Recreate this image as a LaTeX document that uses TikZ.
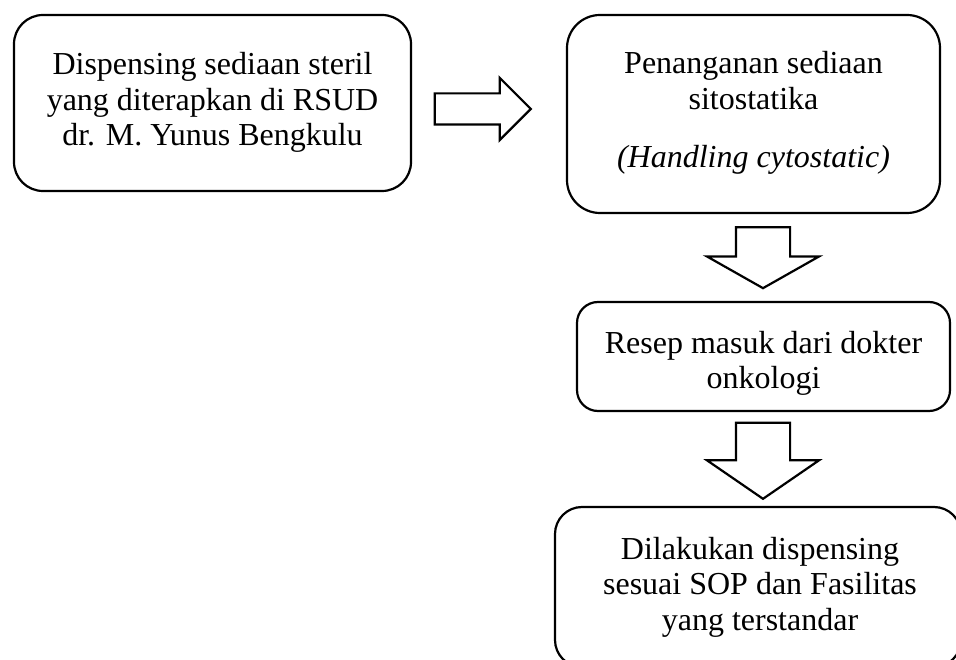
\documentclass[tikz,border=0pt]{standalone}
\usepackage{fontspec}
\setmainfont{Liberation Serif}
\usetikzlibrary{shapes.arrows,calc}

\tikzset{
  stepbox/.style={draw=black, line width=2.2pt, fill=white, inner sep=0pt},
  steptext/.style={align=center, inner sep=0pt,
    font=\fontsize{32}{35.5}\selectfont},
  blockarrow/.style={single arrow, draw=black, line width=2.2pt, fill=white,
    inner xsep=0pt, single arrow head indent=0pt},
}

\begin{document}
\begin{tikzpicture}[x=1pt, y=-1pt]
  \clip (0,0) rectangle (956,660);

  % rounded process boxes
  \node[stepbox, minimum width=397pt, minimum height=176pt, rounded corners=29pt]
    (b1) at (212.5,103) {};
  \node[stepbox, minimum width=373pt, minimum height=198pt, rounded corners=33pt]
    (b2) at (753.5,114) {};
  \node[stepbox, minimum width=373pt, minimum height=109pt, rounded corners=21pt]
    (b3) at (763.5,356.5) {};
  \node[stepbox, minimum width=406pt, minimum height=160pt, rounded corners=27pt]
    (b4) at (758,587) {};

  % box texts
  \node[steptext] (t1) at ([yshift=0.5pt]b1.center)
    {Dispensing sediaan steril\\yang diterapkan di RSUD\\dr. M. Yunus Bengkulu};
  \node[steptext] (t2) at ([yshift=1pt]b2.center)
    {Penanganan sediaan\\sitostatika\\[23pt]\textit{(Handling cytostatic)}};
  \node[steptext] (t3) at ([yshift=-7pt]b3.center)
    {Resep masuk dari dokter\\onkologi};
  \node[steptext] (t4) at ([xshift=2pt]b4.center)
    {Dilakukan dispensing\\sesuai SOP dan Fasilitas\\yang terstandar};

  % block arrows between the boxes
  \node[blockarrow, inner ysep=14.5pt, minimum height=96pt, minimum width=60pt,
        single arrow head extend=15.5pt, single arrow tip angle=90]
    (a1) at (475,109) {};
  \node[blockarrow, rotate=-90, inner ysep=26pt, minimum height=61pt,
        minimum width=110pt, single arrow head extend=29pt,
        single arrow tip angle=121]
    (a2) at (763,250) {};
  \node[blockarrow, rotate=-90, inner ysep=26pt, minimum height=76pt,
        minimum width=110pt, single arrow head extend=29pt,
        single arrow tip angle=111]
    (a3) at (763,451.5) {};
\end{tikzpicture}
\end{document}
